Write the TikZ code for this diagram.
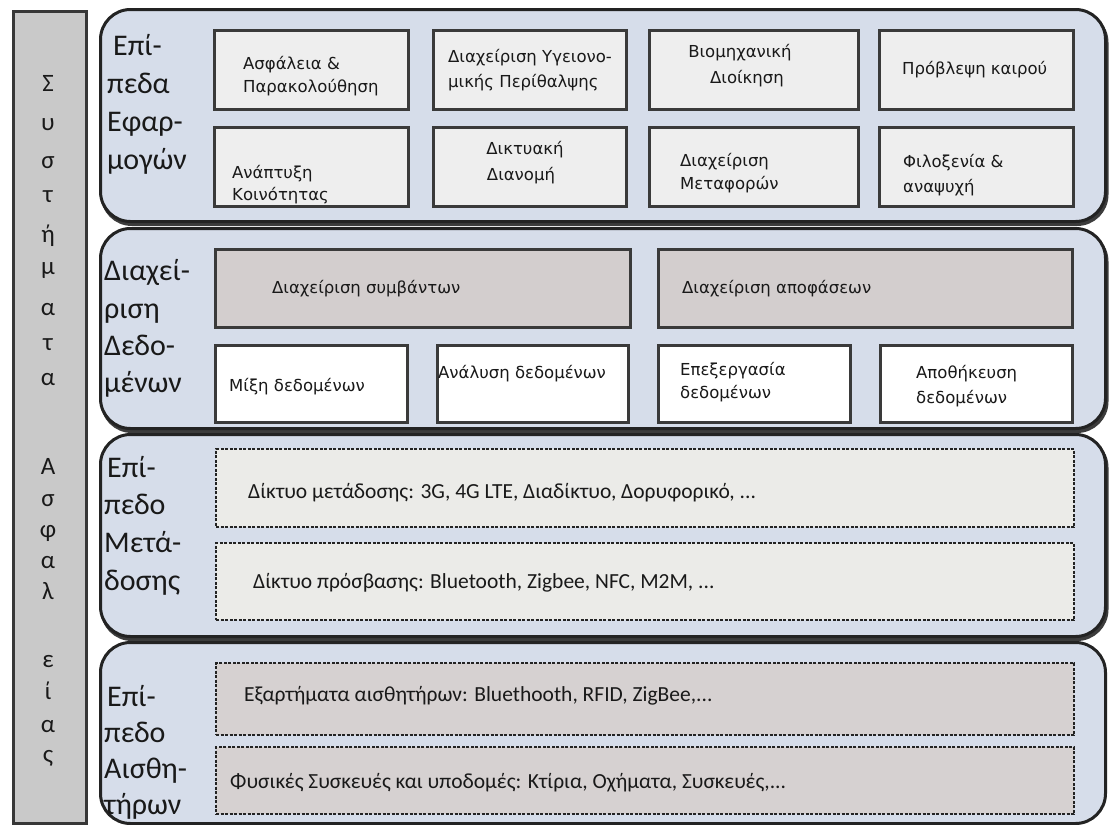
\documentclass[tikz,border=0pt]{standalone}
\usepackage{fontspec}
\setmainfont{Carlito}
\newfontfamily\boxfont{DejaVu Sans}
\definecolor{panelfill}{RGB}{214,221,234}
\definecolor{panelline}{RGB}{35,35,35}
\definecolor{shadowc}{RGB}{60,60,60}
\definecolor{barfill}{RGB}{201,201,201}
\definecolor{barline}{RGB}{55,55,55}
\definecolor{appfill}{RGB}{238,238,238}
\definecolor{boxline}{RGB}{58,58,58}
\definecolor{evfill}{RGB}{211,206,206}
\definecolor{netfill}{RGB}{235,235,232}
\definecolor{sensfill}{RGB}{214,209,209}
\definecolor{txt}{RGB}{25,25,25}
\begin{document}
\begin{tikzpicture}[x=1pt,y=-1pt,
  panel/.style={draw=panelline, line width=3pt, fill=panelfill, rounded corners=30pt, anchor=north west, inner sep=0pt},
  shadowbox/.style={draw=shadowc, line width=3pt, fill=shadowc, rounded corners=30pt, anchor=north west, inner sep=0pt},
  barbox/.style={draw=barline, line width=2.5pt, fill=barfill, anchor=north west, inner sep=0pt},
  appbox/.style={draw=boxline, line width=2.5pt, fill=appfill, anchor=north west, inner sep=0pt},
  evbox/.style={draw=boxline, line width=2.5pt, fill=evfill, anchor=north west, inner sep=0pt},
  databox/.style={draw=boxline, line width=2.5pt, fill=white, anchor=north west, inner sep=0pt},
  netbox/.style={draw=panelline, line width=2.2pt, dash pattern=on 3pt off 1.5pt, fill=netfill, anchor=north west, inner sep=0pt},
  sensbox/.style={draw=panelline, line width=2.2pt, dash pattern=on 3pt off 1.5pt, fill=sensfill, anchor=north west, inner sep=0pt},
  lbl/.style={font=\fontsize{30}{36}\selectfont, anchor=base west, inner sep=0pt, text=txt},
  btxt/.style={font=\boxfont\fontsize{16.5}{20}\selectfont, anchor=base west, inner sep=0pt, text=txt},
  ctxt/.style={font=\boxfont\fontsize{16.5}{20}\selectfont, anchor=base, inner sep=0pt, text=txt},
  ltxt/.style={font=\fontsize{21.5}{25}\selectfont, anchor=base west, inner sep=0pt, text=txt},
  barletter/.style={font=\fontsize{25}{30}\selectfont, anchor=mid, inner sep=0pt, text=txt}
]
\useasboundingbox[fill=white] (0,0) rectangle (1112,825);

% left bar
\node[barbox, minimum width=73pt, minimum height=812pt] (bar) at (12,10) {};
\foreach \c/\yy [count=\i] in {Σ/89, υ/128, σ/166, τ/200, ή/240, μ/272, α/313, τ/348, α/383, Α/472, σ/504, φ/535, α/566, λ/597, ε/665, ί/697, α/730, ς/760}
  \node[barletter] (bl\i) at (48,\yy) {\c};

% panel shadows
\node[shadowbox, minimum width=1005pt, minimum height=212pt] (sh1) at (100.5,11) {};
\node[shadowbox, minimum width=1005pt, minimum height=200pt] (sh2) at (100.5,230) {};
\node[shadowbox, minimum width=1005pt, minimum height=202pt] (sh3) at (100.5,436) {};

% panels
\node[panel, minimum width=1005pt, minimum height=212pt] (p1) at (99,8) {};
\node[panel, minimum width=1005pt, minimum height=200pt] (p2) at (99,227) {};
\node[panel, minimum width=1005pt, minimum height=202pt] (p3) at (99,433) {};
\node[panel, minimum width=1005pt, minimum height=181pt] (p4) at (99,641) {};

% panel labels
\node[lbl] (l11) at (113,55) {Επί-};
\node[lbl] (l12) at (107,93) {πεδα};
\node[lbl] (l13) at (107,131) {Εφαρ-};
\node[lbl] (l14) at (107,169) {μογών};

\node[lbl] (l21) at (104,280) {Διαχεί-};
\node[lbl] (l22) at (104,318) {ριση};
\node[lbl] (l23) at (104,355) {Δεδο-};
\node[lbl] (l24) at (104,392) {μένων};

\node[lbl] (l31) at (107,477) {Επί-};
\node[lbl] (l32) at (104,514) {πεδο};
\node[lbl] (l33) at (104,552) {Μετά-};
\node[lbl] (l34) at (104,590) {δοσης};

\node[lbl] (l41) at (107,706) {Επί-};
\node[lbl] (l42) at (104,742) {πεδο};
\node[lbl] (l43) at (104,778) {Αισθη-};
\node[lbl] (l44) at (104,814) {τήρων};

% application layer boxes
\node[appbox, minimum width=194pt, minimum height=79pt] (a1) at (213,29) {};
\node[appbox, minimum width=193pt, minimum height=79pt] (a2) at (432,29) {};
\node[appbox, minimum width=209pt, minimum height=79pt] (a3) at (648,29) {};
\node[appbox, minimum width=194pt, minimum height=79pt] (a4) at (878,29) {};
\node[appbox, minimum width=194pt, minimum height=79pt] (a5) at (213,126) {};
\node[appbox, minimum width=193pt, minimum height=79pt] (a6) at (432,126) {};
\node[appbox, minimum width=209pt, minimum height=79pt] (a7) at (648,126) {};
\node[appbox, minimum width=194pt, minimum height=79pt] (a8) at (878,126) {};

\node[btxt] (a1t1) at (243,69) {Ασφάλεια \&};
\node[btxt] (a1t2) at (243,92) {Παρακολούθηση};
\node[btxt] (a2t1) at (448,62) {Διαχείριση Υγειονο-};
\node[btxt] (a2t2) at (448,87) {μικής Περίθαλψης};
\node[ctxt] (a3t1) at (740,57) {Βιομηχανική};
\node[ctxt] (a3t2) at (747,83) {Διοίκηση};
\node[btxt] (a4t1) at (902,74) {Πρόβλεψη καιρού};
\node[btxt] (a5t1) at (232,178) {Ανάπτυξη};
\node[btxt] (a5t2) at (232,200) {Κοινότητας};
\node[ctxt] (a6t1) at (525,154) {Δικτυακή};
\node[ctxt] (a6t2) at (521,180) {Διανομή};
\node[btxt] (a7t1) at (680,166) {Διαχείριση};
\node[btxt] (a7t2) at (680,189) {Μεταφορών};
\node[btxt] (a8t1) at (903,167) {Φιλοξενία \&};
\node[btxt] (a8t2) at (903,192) {αναψυχή};

% data management boxes
\node[evbox, minimum width=415pt, minimum height=78pt] (d1) at (214,248) {};
\node[evbox, minimum width=414pt, minimum height=78pt] (d2) at (657,248) {};
\node[databox, minimum width=192pt, minimum height=77pt] (d3) at (214,344) {};
\node[databox, minimum width=191pt, minimum height=77pt] (d4) at (436,344) {};
\node[databox, minimum width=192pt, minimum height=77pt] (d5) at (657,344) {};
\node[databox, minimum width=192pt, minimum height=77pt] (d6) at (879,344) {};

\node[btxt] (d1t) at (272,293) {Διαχείριση συμβάντων};
\node[btxt] (d2t) at (682,293) {Διαχείριση αποφάσεων};
\node[btxt] (d3t) at (229,391) {Μίξη δεδομένων};
\node[btxt] (d4t) at (438,378) {Ανάλυση δεδομένων};
\node[btxt] (d5t1) at (680,375) {Επεξεργασία};
\node[btxt] (d5t2) at (680,398) {δεδομένων};
\node[btxt] (d6t1) at (916,378) {Αποθήκευση};
\node[btxt] (d6t2) at (916,403) {δεδομένων};

% transmission layer
\node[netbox, minimum width=858pt, minimum height=78pt] (n1) at (215,448) {};
\node[netbox, minimum width=858pt, minimum height=77pt] (n2) at (215,542) {};
\node[ltxt] (n1t) at (248,498) {Δίκτυο μετάδοσης: 3G, 4G LTE, Διαδίκτυο, Δορυφορικό, ...};
\node[ltxt] (n2t) at (253,588) {Δίκτυο πρόσβασης: Bluetooth, Zigbee, NFC, M2M, ...};

% sensor layer
\node[sensbox, minimum width=858pt, minimum height=72pt] (s1) at (215,662) {};
\node[sensbox, minimum width=858pt, minimum height=67pt] (s2) at (215,746) {};
\node[ltxt] (s1t) at (244,701) {Εξαρτήματα αισθητήρων: Bluethooth, RFID, ZigBee,...};
\node[ltxt] (s2t) at (230,788) {Φυσικές Συσκευές και υποδομές: Κτίρια, Οχήματα, Συσκευές,...};
\end{tikzpicture}
\end{document}
